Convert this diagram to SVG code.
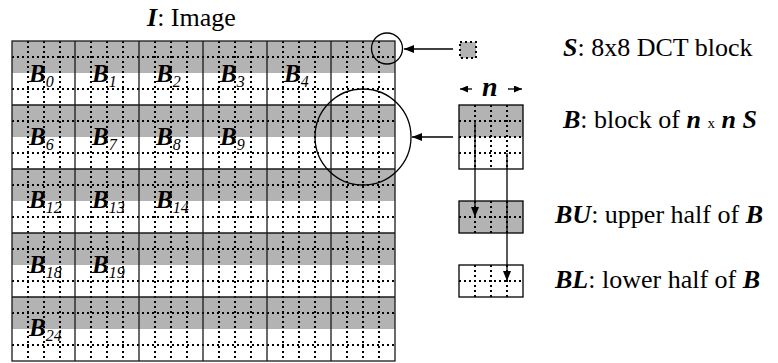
<svg xmlns="http://www.w3.org/2000/svg" width="778" height="363" viewBox="0 0 778 363" font-family="'Liberation Serif', 'Times New Roman', serif">
<style>
text{font-family:'Liberation Serif','Times New Roman',serif;fill:#000}
.bi{font-weight:bold;font-style:italic}
.lbl{font-size:25px;font-weight:bold;font-style:italic}
.sub{font-size:16px;font-weight:normal;font-style:italic}
.txt{font-size:26px}
.gray{fill:#b3b3b3}
.dot{fill:none;stroke:#000;stroke-width:2;stroke-dasharray:2 3}
.solid{fill:none;stroke:#1a1a1a;stroke-width:1.3}
.edge{fill:none;stroke:#000;stroke-width:1.3}
.circ{fill:none;stroke:#000;stroke-width:1.3}
</style>
<defs>
<marker id="ah" markerUnits="userSpaceOnUse" markerWidth="10" markerHeight="8" refX="10" refY="4" orient="auto">
<path d="M0,0 L10,4 L0,8 z" fill="#000"/>
</marker>
<marker id="ahs" markerUnits="userSpaceOnUse" markerWidth="8" markerHeight="7" refX="8" refY="3.5" orient="auto">
<path d="M0,0 L8,3.5 L0,7 z" fill="#000"/>
</marker>
</defs>
<rect width="778" height="363" fill="#fff"/>

<g id="image-grid">
<rect class="gray" x="12" y="41" width="383" height="32"/>
<rect class="gray" x="12" y="105" width="383" height="32"/>
<rect class="gray" x="12" y="169" width="383" height="32"/>
<rect class="gray" x="12" y="233" width="383" height="32"/>
<rect class="gray" x="12" y="297" width="383" height="32"/>
<path class="dot" d="M12,57H395 M12,89H395 M12,121H395 M12,153H395 M12,185H395 M12,217H395 M12,249H395 M12,281H395 M12,313H395 M12,345H395"/>
<path class="dot" d="M28,41V361 M44,41V361 M60,41V361 M91,41V361 M107,41V361 M123,41V361 M155,41V361 M171,41V361 M187,41V361 M219,41V361 M235,41V361 M251,41V361 M283,41V361 M299,41V361 M315,41V361 M347,41V361 M363,41V361 M379,41V361"/>
<path class="solid" d="M75,41V361 M139,41V361 M203,41V361 M267,41V361 M331,41V361 M12,105H395 M12,169H395 M12,233H395 M12,297H395"/>
<rect class="solid" x="12" y="41" width="383" height="320" stroke-width="1.6"/>
<text class="lbl" x="29" y="82">B<tspan class="sub" dy="5">0</tspan></text>
<text class="lbl" x="92" y="82">B<tspan class="sub" dy="5">1</tspan></text>
<text class="lbl" x="156" y="82">B<tspan class="sub" dy="5">2</tspan></text>
<text class="lbl" x="220" y="82">B<tspan class="sub" dy="5">3</tspan></text>
<text class="lbl" x="284" y="82">B<tspan class="sub" dy="5">4</tspan></text>
<text class="lbl" x="29" y="145">B<tspan class="sub" dy="5">6</tspan></text>
<text class="lbl" x="92" y="145">B<tspan class="sub" dy="5">7</tspan></text>
<text class="lbl" x="156" y="145">B<tspan class="sub" dy="5">8</tspan></text>
<text class="lbl" x="220" y="145">B<tspan class="sub" dy="5">9</tspan></text>
<text class="lbl" x="29" y="208">B<tspan class="sub" dy="5">12</tspan></text>
<text class="lbl" x="92" y="208">B<tspan class="sub" dy="5">13</tspan></text>
<text class="lbl" x="156" y="208">B<tspan class="sub" dy="5">14</tspan></text>
<text class="lbl" x="29" y="273">B<tspan class="sub" dy="5">18</tspan></text>
<text class="lbl" x="92" y="273">B<tspan class="sub" dy="5">19</tspan></text>
<text class="lbl" x="29" y="336">B<tspan class="sub" dy="5">24</tspan></text>
</g>

<g id="title-I">
<text class="txt" x="147" y="26"><tspan class="bi">I</tspan>: Image</text>
</g>

<g id="block-S">
<rect class="gray" x="460" y="42" width="16" height="16"/>
<rect class="dot" x="460" y="42" width="16" height="16" stroke-width="1.4" stroke-dasharray="1.5 2"/>
<text class="txt" x="563" y="56"><tspan class="bi">S</tspan>: 8x8 DCT block</text>
</g>

<g id="block-B">
<rect class="gray" x="459" y="105" width="64" height="32"/>
<path class="dot" d="M459,121H523 M459,137H523 M459,153H523 M475,105V169 M491,105V169 M507,105V169"/>
<rect class="edge" x="459" y="105" width="64" height="64"/>
<text class="txt" x="563" y="128"><tspan class="bi">B</tspan>: block of <tspan class="bi">n</tspan> <tspan font-size="15">x</tspan> <tspan class="bi">n S</tspan></text>
</g>

<g id="n-dim">
<text class="bi" x="482" y="96" font-size="28">n</text>
</g>

<g id="block-BU">
<rect class="gray" x="459" y="201" width="64" height="32"/>
<path class="dot" d="M459,217H523 M475,201V233 M491,201V233 M507,201V233"/>
<rect class="edge" x="459" y="201" width="64" height="32"/>
<text class="txt" x="555" y="223"><tspan class="bi">BU</tspan>: upper half of <tspan class="bi">B</tspan></text>
</g>

<g id="block-BL">
<rect fill="#fff" x="459" y="265" width="64" height="32"/>
<path class="dot" d="M459,281H523 M475,265V297 M491,265V297 M507,265V297"/>
<rect class="edge" x="459" y="265" width="64" height="32"/>
<text class="txt" x="555" y="288"><tspan class="bi">BL</tspan>: lower half of <tspan class="bi">B</tspan></text>
</g>

<g id="connectors">
<circle class="circ" cx="387" cy="48.5" r="15.5"/>
<circle class="circ" cx="363" cy="137" r="48"/>
<line class="edge" x1="453" y1="49" x2="404" y2="49" marker-end="url(#ah)"/>
<line class="edge" x1="453" y1="137" x2="412" y2="137" marker-end="url(#ah)"/>
<line class="edge" x1="472" y1="89" x2="460" y2="89" marker-end="url(#ahs)"/>
<line class="edge" x1="508" y1="89" x2="522" y2="89" marker-end="url(#ahs)"/>
<line class="edge" x1="475" y1="121" x2="475" y2="217" marker-end="url(#ah)"/>
<line class="edge" x1="507" y1="153" x2="507" y2="281" marker-end="url(#ah)"/>
</g>
</svg>
